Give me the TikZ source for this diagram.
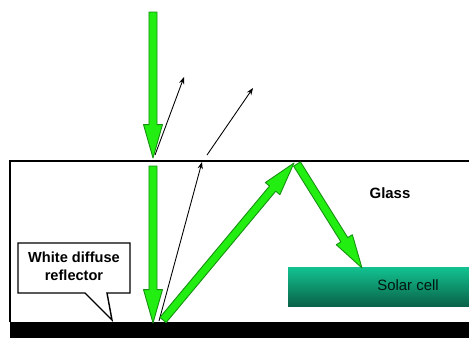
\documentclass[tikz,border=0pt]{standalone}
\usetikzlibrary{calc,arrows.meta}
\usepackage{fontspec}
\setmainfont{Liberation Sans}
\definecolor{agreen}{HTML}{22EE11}
\definecolor{aedge}{HTML}{159010}
\definecolor{celltop}{HTML}{12C391}
\definecolor{cellbot}{HTML}{0A6248}
\tikzset{
  fatarrow/.style={fill=agreen, draw=aedge, line width=0.5pt, line join=round},
  thinarrow/.style={draw=black, line width=0.5pt, -{Stealth[length=4pt,width=3pt]}},
  lbl/.style={font=\fontsize{8}{9.5}\selectfont\bfseries, text=black, align=center, inner sep=1pt},
}
\newcommand\fatarr[2]{%
  \coordinate (fP) at ($(#2)!19pt!(#1)$);
  \draw[fatarrow] ($(#1)!2.3pt!90:(#2)$) -- ($(fP)!2.3pt!-90:(#1)$) -- ($(fP)!5.4pt!-90:(#1)$)
     -- (#2) -- ($(fP)!5.4pt!90:(#1)$) -- ($(fP)!2.3pt!90:(#1)$) -- ($(#1)!2.3pt!-90:(#2)$) -- cycle;}
\begin{document}
\begin{tikzpicture}[x=0.02cm,y=-0.02cm]
\useasboundingbox (0,0) rectangle (469,338);
\fill[white] (0,0) rectangle (469,338);
% glass and reflector
\draw[line width=0.8pt] (10,322) -- (10,161) -- (469,161);
\fill[black] (10,322) rectangle (469,338);
% solar cell
\shade[top color=celltop, bottom color=cellbot] (288,267) rectangle (469,306);
% cover right edge
\fill[white] (455,163) rectangle (469,266);
\fill[white] (455,307) rectangle (469,321.5);
\node[font=\fontsize{8.5}{10}\selectfont, text=black!80!cellbot] (cell) at (408,285) {Solar cell};
\node[lbl, font=\fontsize{8.5}{10}\selectfont\bfseries] (glass) at (390,193) {Glass};
% callout
\coordinate (tipc) at (112,320);
\draw[line width=0.8pt, fill=white] (18,243) -- (130,243) -- (130,293) -- (107,293) -- (tipc) -- (85,293) -- (18,293) -- cycle;
\node[lbl, font=\fontsize{8.3}{10}\selectfont\bfseries] (refl) at (74,266) {White diffuse\\reflector};
% points
\coordinate (inA) at (153,12);
\coordinate (inB) at (153,158);
\coordinate (gA) at (153,166);
\coordinate (gB) at (153,323);
\coordinate (dA) at (163,320);
\coordinate (dB) at (294,163);
\coordinate (eA) at (297,164);
\coordinate (eB) at (362,268);
\coordinate (r1A) at (155,155);
\coordinate (r1B) at (184,77);
\coordinate (r2A) at (207,155);
\coordinate (r2B) at (253,88);
\coordinate (r3A) at (159,321);
\coordinate (r3B) at (202,162);
% thin arrows
\draw[thinarrow] (r1A) -- (r1B);
\draw[thinarrow] (r2A) -- (r2B);
\draw[thinarrow] (r3A) -- (r3B);
% fat green arrows
\fatarr{inA}{inB}
\fatarr{gA}{gB}
\fatarr{dA}{dB}
\fatarr{eA}{eB}
\end{tikzpicture}
\end{document}
